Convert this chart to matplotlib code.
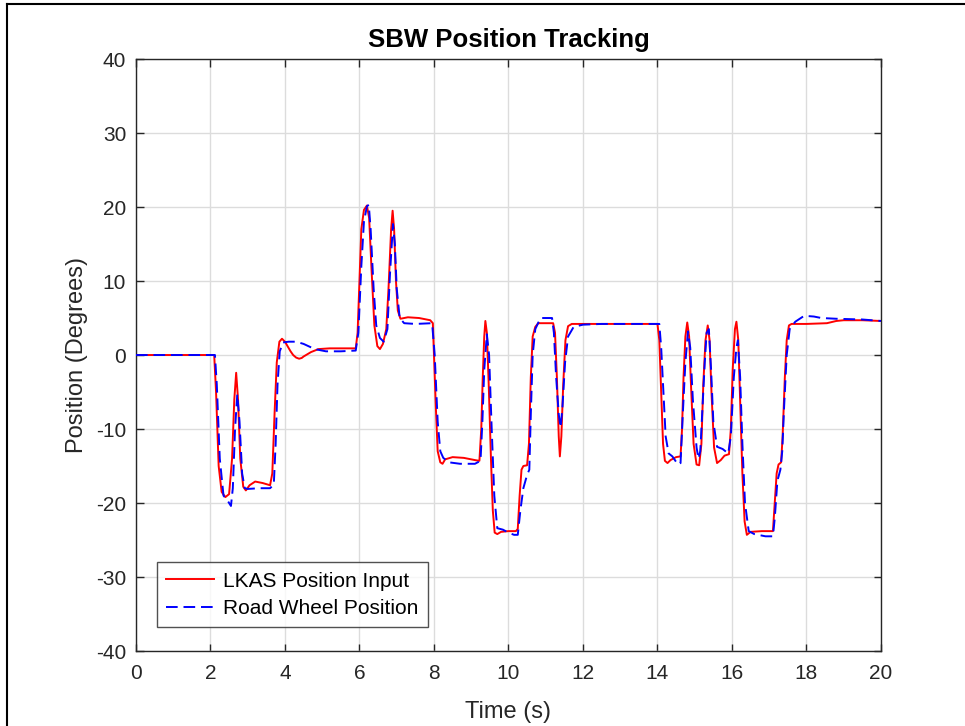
import numpy as np
import matplotlib.pyplot as plt
from matplotlib.lines import Line2D

plt.rcParams['font.family'] = ['Liberation Sans', 'DejaVu Sans']
plt.rcParams['axes.unicode_minus'] = False

# LKAS steering command (deg) vs time (s)
t_cmd = [0, 2.1, 2.15, 2.22, 2.3, 2.4, 2.5, 2.58, 2.64, 2.69, 2.74, 2.8, 2.88, 2.95,
         3.05, 3.2, 3.4, 3.6, 3.66, 3.72, 3.78, 3.85, 3.92, 4.0, 4.08, 4.15, 4.22, 4.3,
         4.38, 4.45, 4.5, 4.6, 4.7, 4.9, 5.2, 5.6, 5.9, 5.95, 6.0, 6.05, 6.12, 6.2, 6.26,
         6.32, 6.4, 6.48, 6.55, 6.63, 6.72, 6.78, 6.85, 6.89, 6.93, 6.98, 7.03, 7.1, 7.3,
         7.6, 7.9, 7.97, 8.0, 8.05, 8.1, 8.17, 8.23, 8.3, 8.5, 8.8, 9.1, 9.22, 9.27, 9.31,
         9.35, 9.38, 9.42, 9.47, 9.53, 9.58, 9.63, 9.7, 9.8, 10.0, 10.2, 10.25, 10.3, 10.35,
         10.4, 10.5, 10.55, 10.6, 10.65, 10.72, 10.8, 11.0, 11.2, 11.25, 11.3, 11.35,
         11.38, 11.42, 11.47, 11.53, 11.6, 11.7, 12.0, 13.0, 14.0, 14.05, 14.1, 14.15,
         14.2, 14.27, 14.35, 14.5, 14.62, 14.66, 14.7, 14.75, 14.8, 14.85, 14.9, 14.97,
         15.05, 15.12, 15.18, 15.23, 15.29, 15.35, 15.4, 15.45, 15.52, 15.6, 15.7, 15.8,
         15.92, 15.97, 16.02, 16.08, 16.12, 16.17, 16.22, 16.28, 16.34, 16.4, 16.5,
         16.8, 17.1, 17.15, 17.2, 17.25, 17.32, 17.36, 17.42, 17.47, 17.53, 17.6, 18.0,
         18.55, 18.8, 19.0, 19.5, 20.0]
lkas_input = [0, 0, -5, -15, -18.5, -19.2, -18.8, -14, -6, -2.4, -6, -14, -17.8, -18.3,
              -17.6, -17.1, -17.3, -17.6, -16, -8, -1, 1.8, 2.2, 1.8, 1.1, 0.5, 0.0, -0.35,
              -0.5, -0.4, -0.2, 0.1, 0.4, 0.8, 0.9, 0.9, 0.9, 3, 10, 17, 19.6, 20.2, 18.5,
              12, 4, 1.2, 0.8, 1.5, 3.5, 9, 17, 19.5, 17, 10, 6, 4.9, 5.1,
              5.0, 4.7, 4.3, 0, -7, -13, -14.5, -14.7, -14.1, -13.8, -13.9, -14.2, -14.3, -10, -3,
              2.5, 4.6, 3, -4, -14, -21, -24, -24.2, -23.9, -23.8, -23.8, -23.5, -19, -15.5,
              -15.0, -14.9, -12, -3, 2.5, 3.8, 4.3, 4.3, 4.3, 3, -3, -11,
              -13.7, -11, -4, 2, 3.9, 4.2, 4.2, 4.2, 4.2, 2, -5, -12,
              -14.3, -14.6, -14.2, -13.8, -13.7, -10, -3, 2.5, 4.4, 2.5, -4, -12,
              -14.8, -14.9, -12, -4, 2, 4.0, 2, -5, -12.5, -14.6, -14.2, -13.6,
              -13.4, -10, -2, 3.5, 4.5, 2, -6, -16, -22.5, -24.3, -23.9,
              -23.8, -23.8, -20, -16, -14.8, -14.5, -11, -3, 2, 4.0, 4.2, 4.2,
              4.3, 4.6, 4.7, 4.7, 4.6]

# measured road wheel angle (deg) vs time (s)
t_wheel = [0, 2.12, 2.17, 2.25, 2.35, 2.45, 2.55, 2.6, 2.66, 2.72, 2.78, 2.85, 2.92, 3.0,
           3.3, 3.6, 3.7, 3.75, 3.8, 3.86, 3.95, 4.1, 4.3, 4.5, 4.8, 5.1, 5.5, 5.9, 5.97,
           6.05, 6.12, 6.2, 6.25, 6.3, 6.38, 6.45, 6.55, 6.65, 6.75, 6.82, 6.9, 6.95, 7.0,
           7.08, 7.2, 7.5, 7.95, 8.02, 8.1, 8.17, 8.25, 8.4, 8.7, 9.1, 9.25, 9.3, 9.35,
           9.42, 9.48, 9.55, 9.62, 9.7, 9.85, 10.0, 10.15, 10.25, 10.32, 10.4, 10.5, 10.56,
           10.6, 10.65, 10.72, 10.86, 11.0, 11.17, 11.22, 11.28, 11.35, 11.4, 11.45, 11.52,
           11.6, 11.75, 12.0, 12.5, 14.05, 14.1, 14.17, 14.22, 14.3, 14.4, 14.55, 14.62,
           14.68, 14.75, 14.82, 14.88, 14.95, 15.05, 15.1, 15.15, 15.2, 15.27, 15.32, 15.38,
           15.44, 15.5, 15.6, 15.75, 15.9, 15.97, 16.05, 16.12, 16.16, 16.22, 16.28, 16.35,
           16.45, 16.6, 16.9, 17.1, 17.15, 17.22, 17.3, 17.35, 17.4, 17.47, 17.55, 17.7,
           17.94, 18.2, 18.4, 18.8, 19.5, 20.0]
road_wheel = [0, 0, -4, -14, -19, -19.6, -20.4, -18, -10, -5.3, -9, -16, -18, -18.1,
              -18.0, -18.0, -17.5, -12, -4, 0.5, 1.7, 1.8, 1.8, 1.5, 0.8, 0.5, 0.5, 0.6, 3,
              12, 18, 20.1, 20.3, 17, 9, 4, 2.3, 1.8, 3.5, 11, 17.7, 15, 9,
              5, 4.3, 4.2, 4.3, 0, -9, -13, -13.9, -14.5, -14.7, -14.7, -14.3, -9, -2,
              2.8, 0, -10, -19, -23.4, -23.6, -24.0, -24.3, -24.3, -21, -18, -16.2, -15.5,
              -8, 0, 3.5, 5.0, 5.0, 5.0, 3, -3, -8, -9.8, -7, -1,
              2.5, 3.8, 4.1, 4.2, 4.2, 1, -6, -11, -13.3, -13.7, -14.8, -14.6,
              -8, -1, 3.2, 1, -6, -12.5, -14, -13, -8, -1, 3.0, 3.5,
              -2, -9, -12.4, -12.7, -13.3, -11, -3, 1.0, 2.0, -3, -12, -20,
              -23.8, -24.2, -24.5, -24.5, -22, -17, -15.5, -13, -7, 0, 3.5, 4.5,
              5.3, 5.2, 5.0, 4.9, 4.8, 4.6]

x_ticks = np.arange(0, 21, 2)
y_ticks = np.arange(-40, 41, 10)

fig = plt.figure(figsize=(9.65, 7.26), dpi=100)
ax = fig.add_axes([0.1409, 0.1033, 0.7720, 0.8154])

ax.plot(t_cmd, lkas_input, color='#ff0000', lw=1.4, label='LKAS Position Input', zorder=3)
ax.plot(t_wheel, road_wheel, color='#0000ff', lw=1.4, ls=(0, (6, 3)),
        label='Road Wheel Position', zorder=4)

ax.set_xlim(0, 20)
ax.set_ylim(-40, 40)
ax.set_xticks(x_ticks)
ax.set_yticks(y_ticks)
ax.grid(True, color='#dcdcdc', lw=1.0)
ax.set_axisbelow(True)

for s in ax.spines.values():
    s.set_color('#262626')
    s.set_linewidth(1.0)
ax.tick_params(direction='in', length=5.4, width=1.0, colors='#262626',
               top=True, right=True, labelsize=15)
ax.tick_params(axis='x', pad=9)
ax.tick_params(axis='y', pad=7)
for lbl in ax.get_xticklabels() + ax.get_yticklabels():
    lbl.set_color('#262626')

ax.set_title('SBW Position Tracking', fontsize=18.5, fontweight='bold', pad=9)
ax.set_xlabel('Time (s)', fontsize=17, color='#262626', labelpad=13)
ax.set_ylabel('Position (Degrees)', fontsize=17, color='#262626', labelpad=6)

leg = ax.legend(loc='lower left', bbox_to_anchor=(0.028, 0.04), fontsize=15,
                frameon=True, fancybox=False, handlelength=2.3, borderpad=0.45,
                labelspacing=0.4, handletextpad=0.45, borderaxespad=0)
leg.get_frame().set_edgecolor('#262626')
leg.get_frame().set_linewidth(1.0)

# outer frame around the figure
fig.add_artist(Line2D([0.0073, 0.0073], [0, 0.9945], color='black', lw=1.5,
                      transform=fig.transFigure))
fig.add_artist(Line2D([0.0073, 1.0], [0.9945, 0.9945], color='black', lw=1.5,
                      transform=fig.transFigure))

fig.savefig('out.png', dpi=100)
